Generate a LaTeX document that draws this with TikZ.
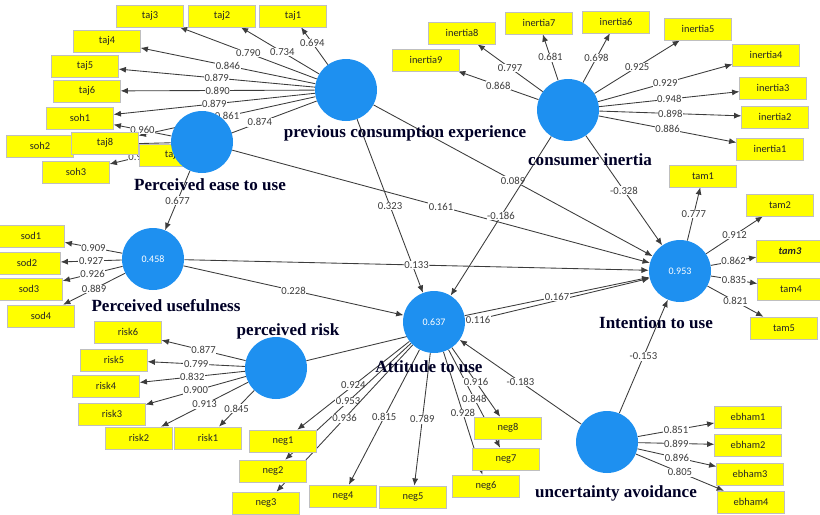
\documentclass[tikz,border=0pt]{standalone}
\usepackage{fontspec}
\setmainfont{Liberation Serif}
\setsansfont{Carlito}
\usetikzlibrary{arrows.meta,backgrounds}

\definecolor{lvblue}{RGB}{30,144,240}
\definecolor{indyellow}{RGB}{255,255,0}
\definecolor{pathgrey}{RGB}{60,60,60}

\begin{document}
\begin{tikzpicture}[x=0.75pt,y=-0.75pt,
    lv/.style={circle,fill=lvblue,minimum size=46.5pt,inner sep=0pt,text=white,font=\sffamily\fontsize{7.5}{8}\selectfont},
    ind/.style={draw=black!25,fill=indyellow,minimum width=50pt,minimum height=16.5pt,inner sep=0pt,text=black!85,font=\sffamily\fontsize{7.8}{8}\selectfont},
    lvname/.style={font=\bfseries\fontsize{12.8}{14}\selectfont,text=black!85!blue},
    arr/.style={draw=pathgrey,line width=0.65pt,-{Latex[length=5.5pt,width=4.5pt]}},
    coef/.style={fill=white,inner sep=0.4pt,text=pathgrey,font=\sffamily\fontsize{8}{9}\selectfont}]
        \clip (0,0) rectangle (820,514);

        % indicators
        \node[ind] (taj1)     at (293, 16) {taj1};
        \node[ind] (taj2)     at (222, 16) {taj2};
        \node[ind] (taj3)     at (150, 16) {taj3};
        \node[ind] (taj4)     at (107, 41) {taj4};
        \node[ind] (taj5)     at ( 85, 66) {taj5};
        \node[ind] (taj6)     at ( 87, 91) {taj6};
        \node[ind] (soh1)     at ( 80,118) {soh1};
        \node[ind] (soh2)     at ( 40,146) {soh2};
        \node[ind] (taj8)     at (105,143) {taj8};
        \node[ind] (taj7)     at (173,155) {taj7};
        \node[ind] (soh3)     at ( 76,172) {soh3};
        \node[ind] (inertia1) at (770,149) {inertia1};
        \node[ind] (inertia2) at (775,117) {inertia2};
        \node[ind] (inertia3) at (773, 88) {inertia3};
        \node[ind] (inertia4) at (766, 55) {inertia4};
        \node[ind] (inertia5) at (698, 29) {inertia5};
        \node[ind] (inertia6) at (616, 22) {inertia6};
        \node[ind] (inertia7) at (539, 23) {inertia7};
        \node[ind] (inertia8) at (462, 33) {inertia8};
        \node[ind] (inertia9) at (426, 60) {inertia9};
        \node[ind] (sod1)     at ( 31,236) {sod1};
        \node[ind] (sod2)     at ( 27,263) {sod2};
        \node[ind] (sod3)     at ( 29,289) {sod3};
        \node[ind] (sod4)     at ( 41,316) {sod4};
        \node[ind] (risk6)    at (128,332) {risk6};
        \node[ind] (risk5)    at (114,360) {risk5};
        \node[ind] (risk4)    at (106,386) {risk4};
        \node[ind] (risk3)    at (112,414) {risk3};
        \node[ind] (risk2)    at (139,438) {risk2};
        \node[ind] (risk1)    at (208,438) {risk1};
        \node[ind] (neg1)     at (283,441) {neg1};
        \node[ind] (neg2)     at (273,471) {neg2};
        \node[ind] (neg3)     at (266,503) {neg3};
        \node[ind] (neg4)     at (343,496) {neg4};
        \node[ind] (neg5)     at (413,497) {neg5};
        \node[ind] (neg6)     at (486,486) {neg6};
        \node[ind] (neg7)     at (506,459) {neg7};
        \node[ind] (neg8)     at (508,428) {neg8};
        \node[ind] (tam1)     at (703,176) {tam1};
        \node[ind] (tam2)     at (780,205) {tam2};
        \node[ind] (tam3)     at (790,251) {\bfseries\itshape tam3};
        \node[ind] (tam4)     at (791,289) {tam4};
        \node[ind] (tam5)     at (784,328) {tam5};
        \node[ind] (ebham1)   at (748,417) {ebham1};
        \node[ind] (ebham2)   at (748,445) {ebham2};
        \node[ind] (ebham3)   at (750,474) {ebham3};
        \node[ind] (ebham4)   at (751,502) {ebham4};

        % constructs
        \node[lv] (prev)   at (346, 90) {};
        \node[lv] (inert)  at (568,110) {};
        \node[lv] (ease)   at (202,142) {};
        \node[lv] (useful) at (153,259) {0.458};
        \node[lv] (risk)   at (276,368) {};
        \node[lv] (att)    at (434,322) {0.637};
        \node[lv] (intent) at (680,271) {0.953};
        \node[lv] (unc)    at (607,442) {};

        \node[lvname] (prevname)   at (405,133) {previous consumption experience};
        \node[lvname] (inertname)  at (590,160) {consumer inertia};
        \node[lvname] (easename)   at (210,185) {Perceived ease to use};
        \node[lvname] (usefulname) at (166,306) {Perceived usefulness};
        \node[lvname] (riskname)   at (288,331) {perceived risk};
        \node[lvname] (attname)    at (429,367) {Attitude to use};
        \node[lvname] (intentname) at (656,323) {Intention to use};
        \node[lvname] (uncname)    at (616,493) {uncertainty avoidance};

        \begin{pgfonlayer}{background}
        % outer loadings
        \draw[arr] (prev) -- node[coef,pos=0.58] {0.694} (taj1);
        \draw[arr] (prev) -- node[coef,pos=0.47] {0.734} (taj2);
        \draw[arr] (prev) -- node[coef] {0.790} (taj3);
        \draw[arr] (prev) -- node[coef] {0.846} (taj4);
        \draw[arr] (prev) -- node[coef] {0.879} (taj5);
        \draw[arr] (prev) -- node[coef] {0.890} (taj6);
        \draw[arr] (prev) -- node[coef] {0.879} (soh1);
        \draw[arr] (prev) -- node[coef] {0.861} (taj8);
        \draw[arr] (prev) -- node[coef] {0.874} (taj7);
        \draw[arr] (ease) -- node[coef] {0.960} (soh1);
        \draw[arr] (ease) -- (soh2);
        \draw[arr] (ease) -- node[coef] {0.951} (soh3);
        \draw[arr] (inert) -- node[coef] {0.886} (inertia1);
        \draw[arr] (inert) -- node[coef] {0.898} (inertia2);
        \draw[arr] (inert) -- node[coef] {0.948} (inertia3);
        \draw[arr] (inert) -- node[coef] {0.929} (inertia4);
        \draw[arr] (inert) -- node[coef] {0.925} (inertia5);
        \draw[arr] (inert) -- node[coef] {0.698} (inertia6);
        \draw[arr] (inert) -- node[coef] {0.681} (inertia7);
        \draw[arr] (inert) -- node[coef] {0.797} (inertia8);
        \draw[arr] (inert) -- node[coef] {0.868} (inertia9);
        \draw[arr] (useful) -- node[coef] {0.909} (sod1);
        \draw[arr] (useful) -- node[coef] {0.927} (sod2);
        \draw[arr] (useful) -- node[coef] {0.926} (sod3);
        \draw[arr] (useful) -- node[coef] {0.889} (sod4);
        \draw[arr] (risk) -- node[coef] {0.877} (risk6);
        \draw[arr] (risk) -- node[coef] {0.799} (risk5);
        \draw[arr] (risk) -- node[coef] {0.832} (risk4);
        \draw[arr] (risk) -- node[coef] {0.900} (risk3);
        \draw[arr] (risk) -- node[coef] {0.913} (risk2);
        \draw[arr] (risk) -- node[coef] {0.845} (risk1);
        \draw[arr] (att) -- node[coef] {0.924} (neg1);
        \draw[arr] (att) -- node[coef] {0.953} (neg2);
        \draw[arr] (att) -- node[coef] {0.936} (neg3);
        \draw[arr] (att) -- node[coef] {0.815} (neg4);
        \draw[arr] (att) -- node[coef] {0.789} (neg5);
        \draw[arr] (att) -- node[coef] {0.928} (neg6);
        \draw[arr] (att) -- node[coef] {0.848} (neg7);
        \draw[arr] (att) -- node[coef] {0.916} (neg8);
        \draw[arr] (intent) -- node[coef] {0.777} (tam1);
        \draw[arr] (intent) -- node[coef] {0.912} (tam2);
        \draw[arr] (intent) -- node[coef] {0.862} (tam3);
        \draw[arr] (intent) -- node[coef] {0.835} (tam4);
        \draw[arr] (intent) -- node[coef] {0.821} (tam5);
        \draw[arr] (unc) -- node[coef] {0.851} (ebham1);
        \draw[arr] (unc) -- node[coef] {0.899} (ebham2);
        \draw[arr] (unc) -- node[coef] {0.896} (ebham3);
        \draw[arr] (unc) -- node[coef] {0.805} (ebham4);

        % path coefficients
        \draw[arr] (ease) -- node[coef] {0.677} (useful);
        \draw[arr] (prev) -- node[coef] {0.323} (att);
        \draw[arr] (prev) -- node[coef] {0.089} (intent);
        \draw[arr] (ease) -- node[coef] {0.161} (intent);
        \draw[arr] (inert) -- node[coef] {-0.186} (att);
        \draw[arr] (inert) -- node[coef] {-0.328} (intent);
        \draw[arr] (useful) -- node[coef] {0.133} (intent);
        \draw[arr] (useful) -- node[coef] {0.228} (att);
        \draw[arr] (risk) -- node[coef] {0.116} (intent);
        \draw[arr] (att) -- node[coef] {0.167} (intent);
        \draw[arr] (unc) -- node[coef] {-0.183} (att);
        \draw[arr] (unc) -- node[coef] {-0.153} (intent);
        \end{pgfonlayer}
      \end{tikzpicture}
\end{document}
